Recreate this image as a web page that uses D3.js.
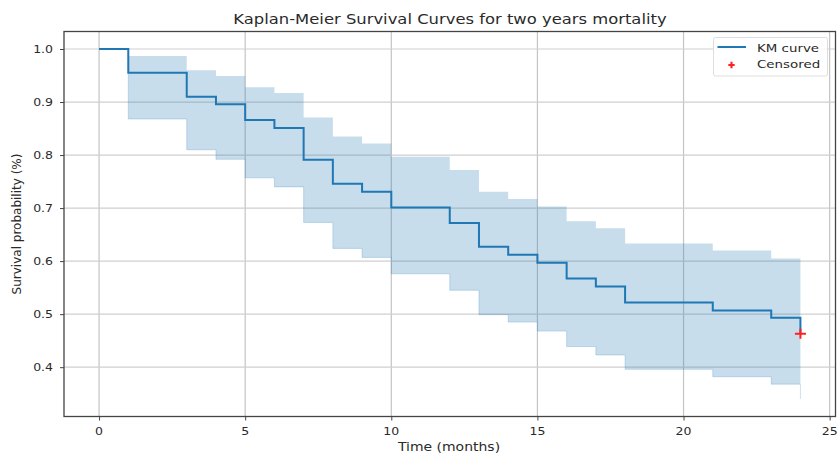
<!DOCTYPE html>
<html>
<head>
<meta charset="utf-8">
<script src="https://cdn.jsdelivr.net/npm/d3@7"></script>
<style>
    body { margin: 0; background: #fff; }
    text { font-family: "DejaVu Sans", sans-serif; fill: #2a2a2a; }
</style>
</head>
<body>
<svg id="canvas" width="838" height="457"></svg>
<script>
// event times (months) and KM estimates
var times = [0, 1, 3, 4, 5, 6, 7, 8, 9, 10, 12, 13, 14, 15, 16, 17, 18, 21, 23, 24];
var survival = [1.0, 0.955, 0.910, 0.896, 0.866, 0.851, 0.791, 0.746, 0.731, 0.701,
    0.672, 0.627, 0.612, 0.597, 0.567, 0.552, 0.522, 0.507, 0.493, 0.463];
var ciUpper = [1.0, 0.987, 0.960, 0.949, 0.928, 0.917, 0.871, 0.835, 0.822, 0.797,
    0.772, 0.731, 0.717, 0.703, 0.675, 0.662, 0.633, 0.620, 0.605, 0.59];
var ciLower = [1.0, 0.868, 0.810, 0.792, 0.757, 0.740, 0.673, 0.624, 0.607, 0.576,
    0.545, 0.499, 0.485, 0.468, 0.439, 0.423, 0.396, 0.382, 0.368, 0.340];
var censoredTimes = [24];
var censoredValues = [0.463];

var xTicks = [0, 5, 10, 15, 20, 25];
var yTicks = [0.4, 0.5, 0.6, 0.7, 0.8, 0.9, 1.0];

// note: "top" is taken by window.top, so plot box names get a prefix
var boxLeft = 64, boxRight = 835.5, boxTop = 31.5, boxBottom = 416.5;
var blue = '#1f77b4';

var x = d3.scaleLinear().domain([-1.2, 25.2]).range([boxLeft, boxRight]);
var y = d3.scaleLinear().domain([0.307, 1.033]).range([boxBottom, boxTop]);

var canvas = d3.select('#canvas');

var rows = times.map(function(t, i) {
    return { t: t, s: survival[i], hi: ciUpper[i], lo: ciLower[i] };
});

// horizontal text looks squashed in the picture
function label(g, tx, ty, str, size, anchor) {
    return g.append('text')
        .attr('transform', 'translate(' + tx + ',' + ty + ') scale(1,0.84)')
        .attr('text-anchor', anchor || 'middle')
        .style('font-size', size + 'px')
        .text(str);
}

// grid
canvas.append('g')
    .selectAll('line')
    .data(xTicks)
    .enter()
    .append('line')
    .attr('x1', function(d) { return x(d); })
    .attr('x2', function(d) { return x(d); })
    .attr('y1', boxTop)
    .attr('y2', boxBottom)
    .attr('stroke', '#c4c4c4')
    .attr('stroke-width', 1.2);

canvas.append('g')
    .selectAll('line')
    .data(yTicks)
    .enter()
    .append('line')
    .attr('x1', boxLeft)
    .attr('x2', boxRight)
    .attr('y1', function(d) { return y(d); })
    .attr('y2', function(d) { return y(d); })
    .attr('stroke', '#cfcfcf')
    .attr('stroke-width', 1.2);

// confidence band
var band = d3.area()
    .curve(d3.curveStepAfter)
    .x(function(d) { return x(d.t); })
    .y0(function(d) { return y(d.lo); })
    .y1(function(d) { return y(d.hi); });

canvas.append('path')
    .datum(rows)
    .attr('d', band)
    .attr('fill', blue)
    .attr('fill-opacity', 0.25);

var edge = d3.line().curve(d3.curveStepAfter).x(function(d) { return x(d.t); });
canvas.append('path')
    .datum(rows)
    .attr('d', edge.y(function(d) { return y(d.lo); }))
    .attr('fill', 'none')
    .attr('stroke', blue)
    .attr('stroke-opacity', 0.22)
    .attr('stroke-width', 1);

// KM curve
var km = d3.line()
    .curve(d3.curveStepAfter)
    .x(function(d) { return x(d.t); })
    .y(function(d) { return y(d.s); });

canvas.append('path')
    .datum(rows)
    .attr('d', km)
    .attr('fill', 'none')
    .attr('stroke', blue)
    .attr('stroke-width', 2);

// censored marks
canvas.append('g')
    .selectAll('g')
    .data(censoredTimes)
    .enter()
    .append('g')
    .attr('transform', function(d, i) {
        return 'translate(' + x(d) + ',' + y(censoredValues[i]) + ')';
    })
    .each(function() {
        var g = d3.select(this);
        g.append('line').attr('x1', -5.5).attr('x2', 5.5).attr('y1', 0).attr('y2', 0);
        g.append('line').attr('x1', 0).attr('x2', 0).attr('y1', -5).attr('y2', 5);
    })
    .selectAll('line')
    .attr('stroke', '#ff2020')
    .attr('stroke-width', 2);

// axes
var xAxis = canvas.append('g')
    .attr('transform', 'translate(0,' + boxBottom + ')')
    .call(d3.axisBottom(x).tickValues(xTicks).tickSize(4).tickFormat(''));
var yAxis = canvas.append('g')
    .attr('transform', 'translate(' + boxLeft + ',0)')
    .call(d3.axisLeft(y).tickValues(yTicks).tickSize(4).tickFormat(''));
[xAxis, yAxis].forEach(function(a) {
    a.select('.domain').remove();
    a.selectAll('line').attr('stroke', '#444').attr('stroke-width', 1);
});

canvas.append('rect')
    .attr('x', boxLeft)
    .attr('y', boxTop)
    .attr('width', boxRight - boxLeft)
    .attr('height', boxBottom - boxTop)
    .attr('fill', 'none')
    .attr('stroke', '#444')
    .attr('stroke-width', 1.3);

var texts = canvas.append('g');
xTicks.forEach(function(d) {
    label(texts, x(d), 435, d3.format('d')(d), 12.5);
});
yTicks.forEach(function(d) {
    label(texts, 53, y(d) + 4, d3.format('.1f')(d), 12.5, 'end');
});

label(texts, 450, 24, 'Kaplan-Meier Survival Curves for two years mortality', 16.4);
label(texts, 449, 450.5, 'Time (months)', 14);

texts.append('text')
    .attr('transform', 'translate(21,224) rotate(-90)')
    .attr('text-anchor', 'middle')
    .style('font-size', '12px')
    .text('Survival probability (%)');

// legend
var legend = canvas.append('g');
legend.append('rect')
    .attr('x', 713.5)
    .attr('y', 37.5)
    .attr('width', 114)
    .attr('height', 38.5)
    .attr('rx', 2)
    .attr('fill', 'rgba(255,255,255,0.85)')
    .attr('stroke', '#dddddd');
legend.append('line')
    .attr('x1', 717.5)
    .attr('x2', 746)
    .attr('y1', 47)
    .attr('y2', 47)
    .attr('stroke', blue)
    .attr('stroke-width', 2);
legend.append('path')
    .attr('d', d3.symbol().type(d3.symbolCross).size(22)())
    .attr('transform', 'translate(731.5,65)')
    .attr('fill', '#ff2020');
label(legend, 757, 51.5, 'KM curve', 13.4, 'start');
label(legend, 757, 68, 'Censored', 13.4, 'start');
</script>
</body>
</html>
